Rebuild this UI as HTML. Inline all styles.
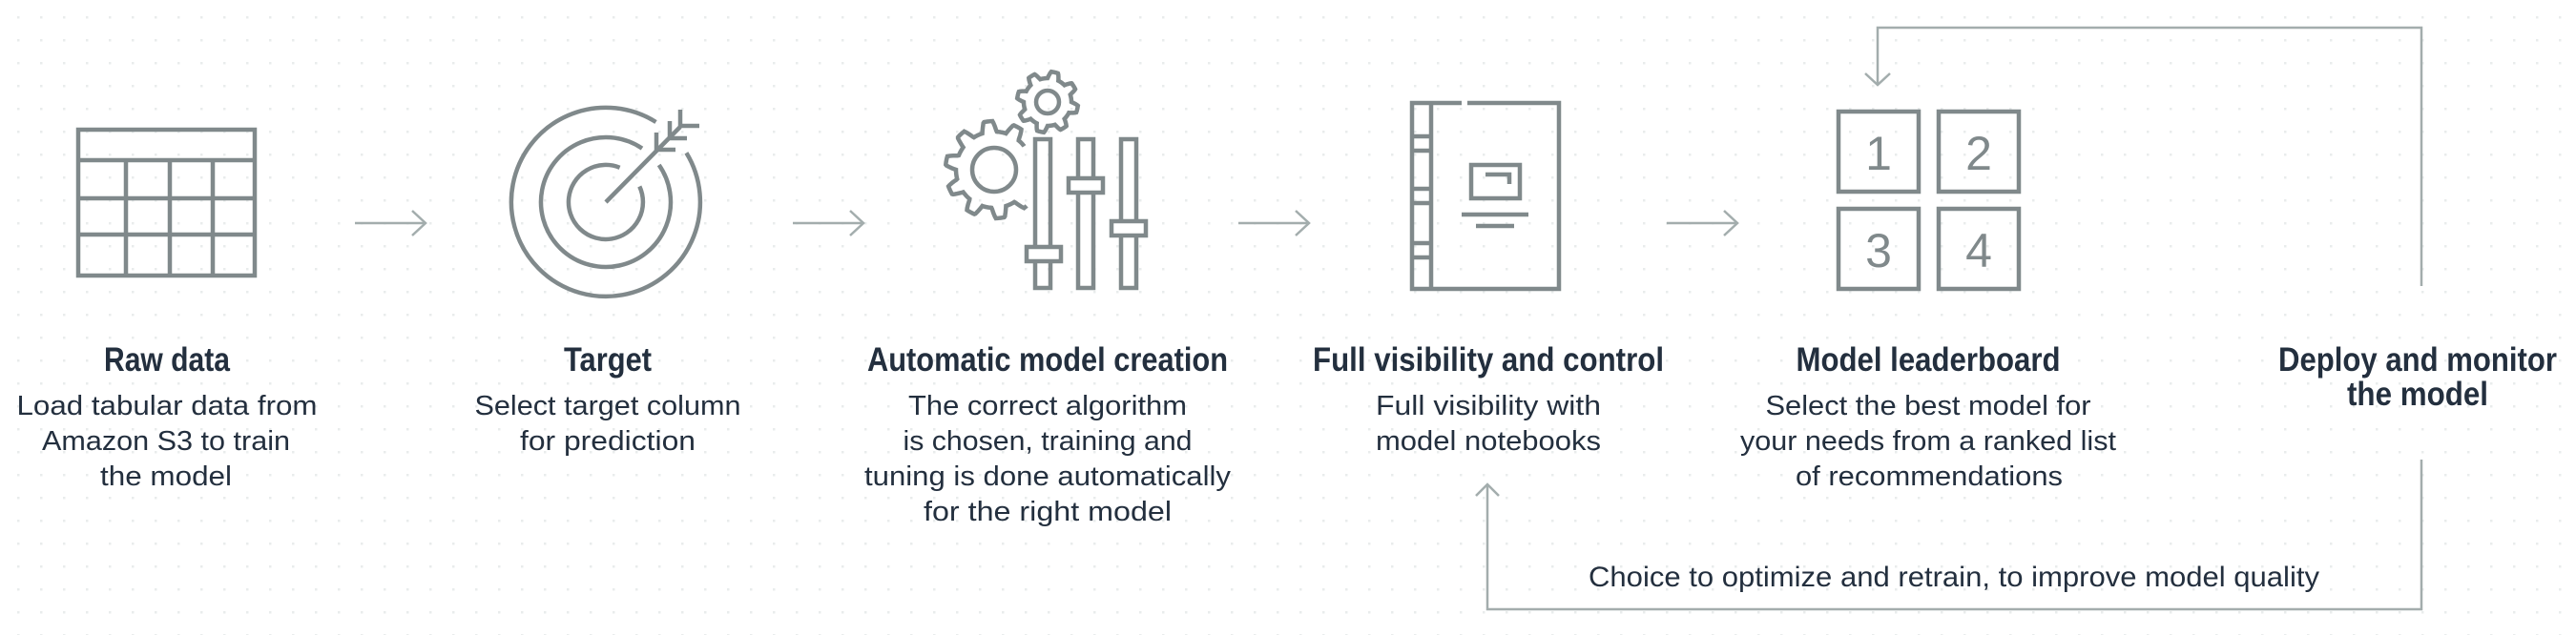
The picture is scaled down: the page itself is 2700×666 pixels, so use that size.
<!DOCTYPE html>
<html><head><meta charset="utf-8">
<style>
html,body{margin:0;padding:0;background:#fff;}
svg{display:block;}
.t{font-family:"Liberation Sans",sans-serif;font-weight:bold;fill:#232f3e;font-size:35px;}
.b{font-family:"Liberation Sans",sans-serif;fill:#232f3e;font-size:29px;}
.ic{fill:none;stroke:#80898b;stroke-width:4.5;}
.ar{fill:none;stroke:#a3adad;stroke-width:2.5;}
.num{font-family:"Liberation Sans",sans-serif;fill:#80898b;font-size:50px;}
</style></head>
<body>
<svg width="2700" height="666" viewBox="0 0 2700 666" xmlns="http://www.w3.org/2000/svg">
<defs>
<pattern id="dots" x="18" y="17" width="24" height="24" patternUnits="userSpaceOnUse">
<rect x="0" y="0" width="2.5" height="2.5" fill="#e9ecec"/>
</pattern>
</defs>
<rect width="2700" height="666" fill="url(#dots)"/>

<g class="ic">
<rect x="82" y="136" width="185" height="153"/>
<line x1="82" y1="168" x2="267" y2="168"/>
<line x1="82" y1="208" x2="267" y2="208"/>
<line x1="82" y1="246" x2="267" y2="246"/>
<line x1="132" y1="168" x2="132" y2="289"/>
<line x1="178" y1="168" x2="178" y2="289"/>
<line x1="223" y1="168" x2="223" y2="289"/>
</g>

<g class="ic">
<path d="M719.4 160.3 A99 99 0 1 1 687.5 128.0"/>
<path d="M690.7 173.0 A68 68 0 1 1 673.0 155.6"/>
<path d="M670.3 195.5 A39 39 0 1 1 649.6 175.8"/>
<line x1="635" y1="212" x2="713" y2="133"/>
<polyline points="713,115 713,132 733,132"/>
<polyline points="702,127 702,145 720,145"/>
<polyline points="688,139 688,157 708,157"/>
</g>

<g class="ic">
<path id="g1"/>
<path id="g2"/>
<circle cx="1042" cy="178" r="23"/>
<circle cx="1098" cy="107" r="12"/>
<rect x="1085" y="146" width="16" height="156"/>
<rect x="1130" y="146" width="16" height="156"/>
<rect x="1175" y="146" width="16" height="156"/>
<rect x="1076" y="259" width="36" height="15" fill="#fff"/>
<rect x="1120" y="187" width="36" height="15" fill="#fff"/>
<rect x="1165" y="232" width="36" height="15" fill="#fff"/>
</g>

<g class="ic">
<path d="M1532 108 H1480 V303 H1634 V108 H1538"/>
<line x1="1500" y1="108" x2="1500" y2="303"/>
<line x1="1480" y1="143" x2="1500" y2="143"/>
<line x1="1480" y1="158" x2="1500" y2="158"/>
<line x1="1480" y1="198" x2="1500" y2="198"/>
<line x1="1480" y1="213" x2="1500" y2="213"/>
<line x1="1480" y1="255" x2="1500" y2="255"/>
<line x1="1480" y1="270" x2="1500" y2="270"/>
<rect x="1542" y="173" width="51" height="35"/>
<polyline points="1557,183 1582,183 1582,193"/>
<line x1="1532" y1="225" x2="1602" y2="225"/>
<line x1="1547" y1="237" x2="1587" y2="237"/>
</g>

<g class="ic">
<rect x="1927" y="117" width="84" height="84"/>
<rect x="2032" y="117" width="84" height="84"/>
<rect x="1927" y="219" width="84" height="84"/>
<rect x="2032" y="219" width="84" height="84"/>
</g>
<g class="num" text-anchor="middle">
<text x="1969" y="178">1</text>
<text x="2074" y="178">2</text>
<text x="1969" y="280">3</text>
<text x="2074" y="280">4</text>
</g>

<g class="ar">
<line x1="372" y1="234" x2="446" y2="234"/><polyline points="432,221 446,234 432,247"/>
<line x1="831" y1="234" x2="905" y2="234"/><polyline points="891,221 905,234 891,247"/>
<line x1="1298" y1="234" x2="1372" y2="234"/><polyline points="1358,221 1372,234 1358,247"/>
<line x1="1747" y1="234" x2="1821" y2="234"/><polyline points="1807,221 1821,234 1807,247"/>
<polyline points="2538,300 2538,29 1968,29 1968,89"/>
<polyline points="1955,77 1968,89 1981,77"/>
<polyline points="2538,482 2538,639 1559,639 1559,508"/>
<polyline points="1547,520 1559,508 1571,520"/>
</g>

<g text-anchor="middle">
<text class="t" x="175" y="389" textLength="132" lengthAdjust="spacingAndGlyphs">Raw data</text>
<text class="b" x="175" y="435" textLength="315" lengthAdjust="spacingAndGlyphs">Load tabular data from</text>
<text class="b" x="174" y="472" textLength="260" lengthAdjust="spacingAndGlyphs">Amazon S3 to train</text>
<text class="b" x="174" y="509" textLength="138" lengthAdjust="spacingAndGlyphs">the model</text>

<text class="t" x="637" y="389" textLength="92" lengthAdjust="spacingAndGlyphs">Target</text>
<text class="b" x="637" y="435" textLength="279" lengthAdjust="spacingAndGlyphs">Select target column</text>
<text class="b" x="637" y="472" textLength="184" lengthAdjust="spacingAndGlyphs">for prediction</text>

<text class="t" x="1098" y="389" textLength="378" lengthAdjust="spacingAndGlyphs">Automatic model creation</text>
<text class="b" x="1098" y="435" textLength="292" lengthAdjust="spacingAndGlyphs">The correct algorithm</text>
<text class="b" x="1098" y="472" textLength="303" lengthAdjust="spacingAndGlyphs">is chosen, training and</text>
<text class="b" x="1098" y="509" textLength="384" lengthAdjust="spacingAndGlyphs">tuning is done automatically</text>
<text class="b" x="1098" y="546" textLength="260" lengthAdjust="spacingAndGlyphs">for the right model</text>

<text class="t" x="1560" y="389" textLength="368" lengthAdjust="spacingAndGlyphs">Full visibility and control</text>
<text class="b" x="1560" y="435" textLength="236" lengthAdjust="spacingAndGlyphs">Full visibility with</text>
<text class="b" x="1560" y="472" textLength="236" lengthAdjust="spacingAndGlyphs">model notebooks</text>

<text class="t" x="2021" y="389" textLength="277" lengthAdjust="spacingAndGlyphs">Model leaderboard</text>
<text class="b" x="2021" y="435" textLength="341" lengthAdjust="spacingAndGlyphs">Select the best model for</text>
<text class="b" x="2021" y="472" textLength="394" lengthAdjust="spacingAndGlyphs">your needs from a ranked list</text>
<text class="b" x="2022" y="509" textLength="280" lengthAdjust="spacingAndGlyphs">of recommendations</text>

<text class="t" x="2534" y="389" textLength="292" lengthAdjust="spacingAndGlyphs">Deploy and monitor</text>
<text class="t" x="2534" y="425" textLength="148" lengthAdjust="spacingAndGlyphs">the model</text>
</g>
<text class="b" x="1665" y="615" style="font-size:30px" textLength="766" lengthAdjust="spacingAndGlyphs">Choice to optimize and retrain, to improve model quality</text>
</svg>
<script>
function gear(cx,cy,ro,ri,n,gs,ge){
  var pts=[],step=360/n;
  var start=(ge===null)?0:ge, end=(ge===null)?360:gs+360;
  for(var a=start;a<=end+0.01;a+=1){
    var ph=(((a%step)+step)%step)/step;
    var r;
    if(ph<0.15) r=ri+(ro-ri)*(ph/0.15);
    else if(ph<0.45) r=ro;
    else if(ph<0.6) r=ro-(ro-ri)*((ph-0.45)/0.15);
    else r=ri;
    var t=a*Math.PI/180;
    pts.push((cx+r*Math.cos(t)).toFixed(1)+' '+(cy+r*Math.sin(t)).toFixed(1));
  }
  return 'M'+pts.join(' L')+(ge===null?' Z':'');
}
document.getElementById('g1').setAttribute('d',gear(1042,178,51,40,10,-38,48));
document.getElementById('g2').setAttribute('d',gear(1098,107,32,25,8,0,null));
</script>
</body></html>
